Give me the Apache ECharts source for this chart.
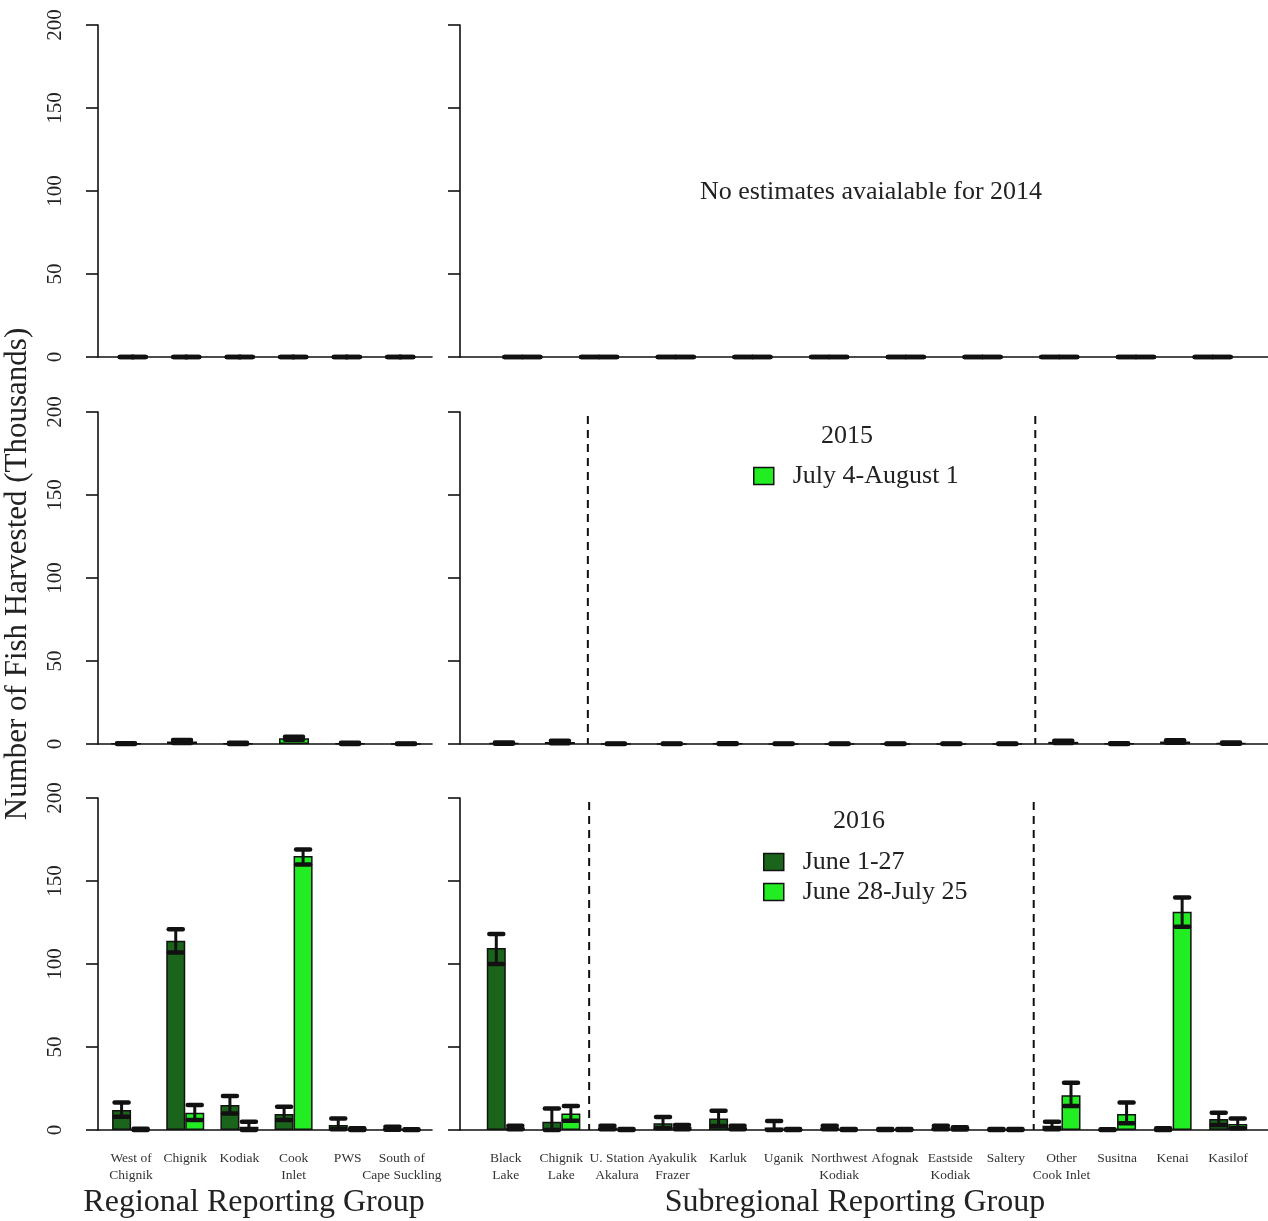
<!DOCTYPE html>
<html>
<head>
<meta charset="utf-8">
<script src="https://cdn.jsdelivr.net/npm/echarts@6/dist/echarts.min.js"></script>
<style>html,body{margin:0;padding:0;background:#fff}#c{width:1268px;height:1221px}</style>
</head>
<body>
<div id="c"></div>
<script>
// ---------- DATA ----------
const regionalCats = ['West of\nChignik','Chignik','Kodiak','Cook\nInlet','PWS','South of\nCape Suckling'];
const subregionalCats = ['Black\nLake','Chignik\nLake','U. Station\nAkalura','Ayakulik\nFrazer','Karluk','Uganik','Northwest\nKodiak','Afognak','Eastside\nKodiak','Saltery','Other\nCook Inlet','Susitna','Kenai','Kasilof'];
const subregional2014Slots = ['','','','','','','','','',''];
const yTicks = [0, 50, 100, 150, 200];

// 2014: no estimates (all zero)
const regional2014 = [0,0,0,0,0,0];
const subregional2014 = [0,0,0,0,0,0,0,0,0,0];

// 2015: July 4-August 1
const regional2015 = [0.2, 1.5, 0.3, 3.5, 0.3, 0.1];
const regional2015Lo = [0, 0.6, 0, 2.6, 0, 0];
const regional2015Hi = [0.5, 2.4, 0.7, 4.4, 0.7, 0.3];
const subregional2015 = [0.5, 1.2, 0.1, 0.1, 0.2, 0.1, 0.1, 0.1, 0.1, 0.1, 1.3, 0.2, 1.5, 0.5];
const subregional2015Lo = [0.1, 0.5, 0, 0, 0, 0, 0, 0, 0, 0, 0.6, 0, 0.8, 0.1];
const subregional2015Hi = [0.9, 1.9, 0.3, 0.3, 0.4, 0.3, 0.3, 0.3, 0.3, 0.3, 2.0, 0.4, 2.2, 0.9];

// 2016: June 1-27 (dark) and June 28-July 25 (light)
const regional2016A = [12, 114, 15, 9.6, 3, 1];
const regional2016ALo = [8, 107, 10, 6, 0.5, 0.2];
const regional2016AHi = [16.5, 121, 20.5, 14, 7, 2];
const regional2016B = [0.3, 10.4, 2, 165, 0.5, 0.2];
const regional2016BLo = [0, 6, 0, 160, 0, 0];
const regional2016BHi = [0.8, 15, 5, 169, 1, 0.5];
const subregional2016A = [109.6, 5, 1.5, 4, 7, 1.5, 1.5, 0.3, 1.5, 0.3, 2.5, 0.2, 0.5, 6.6];
const subregional2016ALo = [100, 0, 0.5, 1, 2.4, 0, 0.5, 0, 0.5, 0, 0.5, 0, 0, 3];
const subregional2016AHi = [118, 13, 2.5, 7.8, 11.6, 5.4, 2.5, 0.6, 2.5, 0.6, 5, 0.4, 1, 10.4];
const subregional2016B = [1.5, 10, 0.3, 2, 1.5, 0.3, 0.3, 0.3, 1, 0.3, 21, 9.6, 131.5, 3.6];
const subregional2016BLo = [0.5, 5.6, 0, 0.5, 0.5, 0, 0, 0, 0.3, 0, 14.5, 4, 122.5, 1];
const subregional2016BHi = [2.5, 14.5, 0.6, 3, 2.5, 0.6, 0.6, 0.6, 1.7, 0.6, 28.5, 16.5, 140, 7];

// separators (between category index pairs)
const separators = [[1, 2], [9, 10]];

const seriesNames = { s2015: 'July 4-August 1', s2016a: 'June 1-27', s2016b: 'June 28-July 25' };

// ---------- STYLE / LAYOUT ----------
const FONT = 'Liberation Serif';
const DARK = '#1b641b', LIGHT = '#22ec22', INK = '#111';
const rowTops = [25, 412, 798];
const rowH = 332;

const grids = [], xAxes = [], yAxes = [], series = [];

function addFrame(top, left, width, showLabels) {
  const gi = grids.length;
  grids.push({ left, top, width, height: rowH });
  xAxes.push({ gridIndex: gi, type: 'value', min: 0, max: 1,
    axisLine: { show: true, lineStyle: { color: INK, width: 1.6 } },
    axisTick: { show: false }, axisLabel: { show: false }, splitLine: { show: false } });
  yAxes.push({ gridIndex: gi, type: 'value', min: yTicks[0], max: yTicks[yTicks.length - 1], interval: yTicks[1] - yTicks[0],
    axisLine: { show: true, lineStyle: { color: INK, width: 1.6 } },
    axisTick: { show: true, length: 12, lineStyle: { color: INK, width: 1.6 } },
    axisLabel: { show: showLabels, rotate: 90, fontFamily: FONT, fontSize: 21, color: '#222', margin: 32 },
    splitLine: { show: false } });
}
function addData(top, left, width, cats, showLabels) {
  const gi = grids.length;
  grids.push({ left, top, width, height: rowH });
  xAxes.push({ gridIndex: gi, type: 'category', data: cats,
    axisLine: { show: false }, axisTick: { show: false },
    axisLabel: { show: showLabels, interval: 0, fontFamily: FONT, fontSize: 13.5, lineHeight: 17, color: '#333', margin: 20 },
    splitLine: { show: false } });
  yAxes.push({ gridIndex: gi, type: 'value', min: 0, max: 200, show: false });
  return gi;
}
function addBars(gi, name, vals, color, barWidth) {
  series.push({ type: 'bar', name, xAxisIndex: gi, yAxisIndex: gi, data: vals, barWidth, barGap: '0%',
    itemStyle: { color, borderColor: INK, borderWidth: 1.5 }, silent: true, z: 3 });
}
function addErr(gi, lo, hi, offset, capHalf) {
  series.push({ type: 'custom', xAxisIndex: gi, yAxisIndex: gi, silent: true, z: 5, clip: false,
    data: lo.map((l, i) => [i, l, hi[i]]), encode: { x: 0, y: [1, 2] },
    renderItem: function (p, api) {
      const a = api.coord([api.value(0), api.value(1)]);
      const b = api.coord([api.value(0), api.value(2)]);
      const x = a[0] + offset;
      const st = { stroke: INK, lineWidth: 3 };
      const cs = { stroke: INK, lineWidth: 4.5, lineCap: 'round' };
      return { type: 'group', children: [
        { type: 'line', shape: { x1: x, y1: a[1], x2: x, y2: b[1] }, style: st },
        { type: 'line', shape: { x1: x - capHalf, y1: a[1], x2: x + capHalf, y2: a[1] }, style: cs },
        { type: 'line', shape: { x1: x - capHalf, y1: b[1], x2: x + capHalf, y2: b[1] }, style: cs }
      ] };
    } });
}
function addSeparators(gi) {
  series.push({ type: 'custom', xAxisIndex: gi, yAxisIndex: gi, silent: true, z: 4,
    data: separators, encode: { x: [0, 1] },
    renderItem: function (p, api) {
      const a = api.coord([api.value(0), 200]);
      const b = api.coord([api.value(1), 0]);
      const x = (a[0] + b[0]) / 2;
      return { type: 'line', shape: { x1: x, y1: a[1] + 4, x2: x, y2: b[1] },
        style: { stroke: INK, lineWidth: 2, lineDash: [8, 6] } };
    } });
}

// Row 1: 2014
addFrame(rowTops[0], 98, 334, true);
addFrame(rowTops[0], 460, 808, false);
let g = addData(rowTops[0], 106, 321, regionalCats, false);
addBars(g, '2014a', regional2014, DARK, 6); addBars(g, '2014b', regional2014, LIGHT, 6);
addErr(g, regional2014, regional2014, -6, 7); addErr(g, regional2014, regional2014, 6, 7);
g = addData(rowTops[0], 484, 767, subregional2014Slots, false);
addBars(g, '2014c', subregional2014, DARK, 9); addBars(g, '2014d', subregional2014, LIGHT, 9);
addErr(g, subregional2014, subregional2014, -9, 9); addErr(g, subregional2014, subregional2014, 9, 9);

// Row 2: 2015
addFrame(rowTops[1], 98, 334, true);
addFrame(rowTops[1], 460, 808, false);
g = addData(rowTops[1], 98, 336, regionalCats, false);
addBars(g, seriesNames.s2015, regional2015, LIGHT, 30);
addErr(g, regional2015Lo, regional2015Hi, 0, 9);
g = addData(rowTops[1], 476, 783, subregionalCats, false);
addBars(g, seriesNames.s2015, subregional2015, LIGHT, 30);
addErr(g, subregional2015Lo, subregional2015Hi, 0, 9);
addSeparators(g);

// Row 3: 2016
addFrame(rowTops[2], 98, 334, true);
addFrame(rowTops[2], 460, 808, false);
g = addData(rowTops[2], 104, 325, regionalCats, true);
addBars(g, seriesNames.s2016a, regional2016A, DARK, 19);
addBars(g, seriesNames.s2016b, regional2016B, LIGHT, 19);
addErr(g, regional2016ALo, regional2016AHi, -9.5, 7);
addErr(g, regional2016BLo, regional2016BHi, 9.5, 7);
g = addData(rowTops[2], 478, 778, subregionalCats, true);
addBars(g, seriesNames.s2016a, subregional2016A, DARK, 19);
addBars(g, seriesNames.s2016b, subregional2016B, LIGHT, 19);
addErr(g, subregional2016ALo, subregional2016AHi, -9.5, 7);
addErr(g, subregional2016BLo, subregional2016BHi, 9.5, 7);
addSeparators(g);

const legendBase = {
  icon: 'rect', itemWidth: 20, itemHeight: 17, selectedMode: false,
  itemStyle: { borderColor: INK, borderWidth: 1.5 },
  textStyle: { fontFamily: FONT, fontSize: 26, color: '#222', padding: [0, 0, 0, 14] }
};

const txt = (text, x, y, size, rot) => ({
  type: 'text', x, y, rotation: rot || 0,
  style: { text, fontFamily: FONT, fontSize: size, fill: '#222', align: 'center', verticalAlign: 'middle' }
});

const option = {
  animation: false,
  backgroundColor: '#fff',
  grid: grids, xAxis: xAxes, yAxis: yAxes, series,
  legend: [
    Object.assign({}, legendBase, { data: [seriesNames.s2015], left: 748, top: 458 }),
    Object.assign({}, legendBase, { data: [seriesNames.s2016a, seriesNames.s2016b], orient: 'vertical', left: 758, top: 844, itemGap: 4 })
  ],
  graphic: [
    txt('No estimates avaialable for 2014', 871, 192, 26),
    txt('2015', 847, 436, 26),
    txt('2016', 859, 821, 26),
    txt('Number of Fish Harvested (Thousands)', 18, 574, 31, Math.PI / 2),
    txt('Regional Reporting Group', 254, 1203, 32),
    txt('Subregional Reporting Group', 855, 1203, 32)
  ]
};

const chart = echarts.init(document.getElementById('c'), null, { renderer: 'canvas' });
chart.setOption(option);
</script>
</body>
</html>
